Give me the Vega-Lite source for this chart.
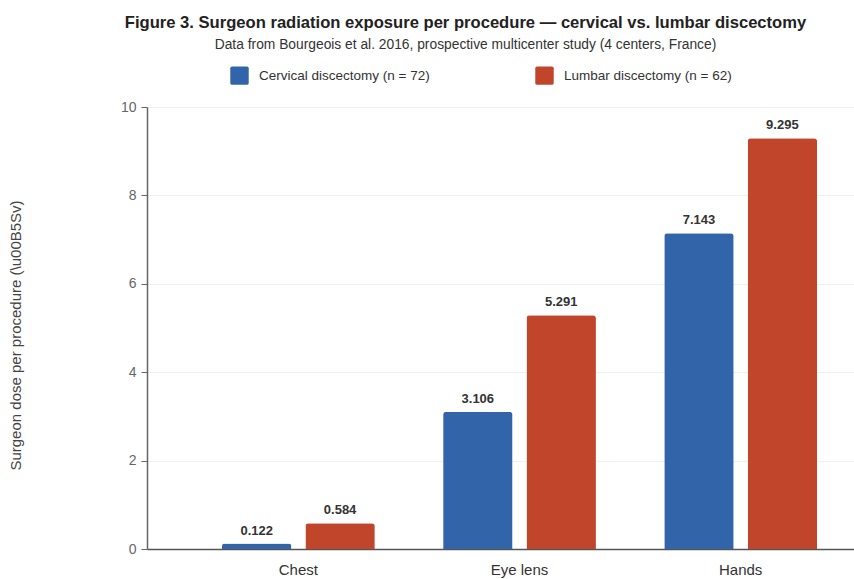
{
  "$schema": "https://vega.github.io/schema/vega-lite/v6.json",
  "width": 707,
  "height": 442,
  "autosize": {"type": "none"},
  "padding": {"left": 147, "top": 107, "right": 0, "bottom": 30},
  "background": "white",
  "config": {
    "font": "Liberation Sans",
    "view": {"stroke": null}
  },
  "title": {
    "text": "Figure 3. Surgeon radiation exposure per procedure — cervical vs. lumbar discectomy",
    "subtitle": "Data from Bourgeois et al. 2016, prospective multicenter study (4 centers, France)",
    "anchor": "middle",
    "dx": -35,
    "offset": 14,
    "fontSize": 16.6,
    "fontWeight": "bold",
    "color": "#222222",
    "subtitleFontSize": 13.8,
    "subtitleColor": "#333333",
    "subtitlePadding": 7
  },
  "data": {
    "values": [
      {"site": "Chest", "procedure": "Cervical discectomy (n = 72)", "dose": 0.122},
      {"site": "Chest", "procedure": "Lumbar discectomy (n = 62)", "dose": 0.584},
      {"site": "Eye lens", "procedure": "Cervical discectomy (n = 72)", "dose": 3.106},
      {"site": "Eye lens", "procedure": "Lumbar discectomy (n = 62)", "dose": 5.291},
      {"site": "Hands", "procedure": "Cervical discectomy (n = 72)", "dose": 7.143},
      {"site": "Hands", "procedure": "Lumbar discectomy (n = 62)", "dose": 9.295}
    ]
  },
  "encoding": {
    "x": {
      "field": "site",
      "type": "nominal",
      "sort": null,
      "scale": {"paddingInner": 0.309, "paddingOuter": 0.253, "align": 0.67},
      "axis": {
        "title": null,
        "labelAngle": 0,
        "labelFontSize": 15,
        "labelColor": "#333333",
        "labelPadding": 13,
        "ticks": false,
        "domainColor": "#555555",
        "domainWidth": 1.5
      }
    },
    "xOffset": {
      "field": "procedure",
      "type": "nominal",
      "scale": {"paddingInner": 0.168}
    },
    "y": {
      "field": "dose",
      "type": "quantitative",
      "scale": {"domain": [0, 10], "nice": false},
      "axis": {
        "title": "Surgeon dose per procedure (\\u00B5Sv)",
        "titleFontSize": 15,
        "titleFontWeight": "normal",
        "titleColor": "#444444",
        "titleX": -124,
        "titleY": 228,
        "titleAngle": -90,
        "titleAlign": "center",
        "values": [0, 2, 4, 6, 8, 10],
        "labelFontSize": 14,
        "labelColor": "#666666",
        "labelPadding": 5,
        "tickSize": 6,
        "tickColor": "#666666",
        "domainColor": "#666666",
        "domainWidth": 1.5,
        "gridColor": "#f0f0f0"
      }
    }
  },
  "layer": [
    {
      "mark": {"type": "bar", "cornerRadiusTopLeft": 3, "cornerRadiusTopRight": 3},
      "encoding": {
        "color": {
          "field": "procedure",
          "type": "nominal",
          "scale": {"range": ["#3264AA", "#C1452A"]},
          "legend": {
            "title": null,
            "orient": "none",
            "direction": "horizontal",
            "legendX": 83,
            "legendY": -41,
            "padding": 0,
            "columnPadding": 105,
            "labelLimit": 400,
            "symbolType": "M-0.8,-1H0.8Q1,-1 1,-0.8V0.8Q1,1 0.8,1H-0.8Q-1,1 -1,0.8V-0.8Q-1,-1 -0.8,-1Z",
            "symbolSize": 340,
            "symbolStrokeWidth": 0,
            "symbolOpacity": 1,
            "labelFontSize": 13.5,
            "labelColor": "#333333",
            "labelOffset": 10
          }
        }
      }
    },
    {
      "mark": {"type": "text", "baseline": "bottom", "dy": -6, "fontSize": 13, "fontWeight": "bold", "color": "#333333"},
      "encoding": {
        "text": {"field": "dose", "type": "quantitative", "format": ".3f"}
      }
    }
  ]
}
